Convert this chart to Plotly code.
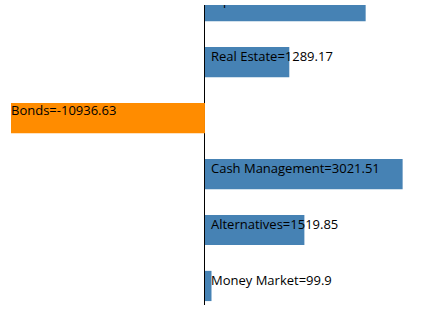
import plotly.graph_objects as go

categories = ["Money Market", "Alternatives", "Cash Management", "Bonds", "Real Estate", "Equities"]
values = [99.9, 1519.85, 3021.51, -10936.63, 1289.17, 2456.3]
colors = ["#4682B4", "#4682B4", "#4682B4", "#FF8C00", "#4682B4", "#4682B4"]

x_range = [-2965, 3180]
y_range = [-0.34, 5.02]
W, H = 424, 310
margin = dict(l=11, r=11, t=5, b=5)
bar_w = 0.54
text_lift = 0.105  # labels sit slightly above the bar centre

positions = list(range(len(categories)))
labels = [f"{c}={v}" for c, v in zip(categories, values)]
px_per_unit = (W - margin["l"] - margin["r"]) / (x_range[1] - x_range[0])
pad_units = 3 / px_per_unit

pos_idx = [i for i, v in enumerate(values) if v >= 0]
neg_idx = [i for i, v in enumerate(values) if v < 0]

fig = go.Figure()
# bars
fig.add_trace(go.Bar(
    y=positions, x=values, orientation="h", width=bar_w,
    marker=dict(color=colors, line=dict(width=0)),
    hoverinfo="skip",
))
# labels for positive bars (transparent carrier bars, clipped like the bars)
fig.add_trace(go.Bar(
    y=[positions[i] for i in pos_idx],
    x=[values[i] for i in pos_idx],
    base=pad_units,
    orientation="h", width=bar_w, offset=-bar_w / 2 + text_lift,
    marker=dict(color="rgba(0,0,0,0)", line=dict(width=0)),
    text=[labels[i] for i in pos_idx],
    textposition="inside", insidetextanchor="start",
    constraintext="none", textangle=0,
    textfont=dict(family="Open Sans", size=13, color="black"),
    cliponaxis=True,
    hoverinfo="skip",
))
# labels for negative bars, pinned to the left edge of the plot
fig.add_trace(go.Scatter(
    x=[x_range[0] for _ in neg_idx],
    y=[positions[i] + text_lift for i in neg_idx],
    mode="text",
    text=[labels[i] for i in neg_idx],
    textposition="middle right",
    textfont=dict(family="Open Sans", size=13, color="black"),
    hoverinfo="skip",
))

fig.update_layout(
    width=W, height=H,
    margin=margin,
    paper_bgcolor="white", plot_bgcolor="white",
    showlegend=False,
    barmode="overlay",
    xaxis=dict(range=x_range, showticklabels=False, showgrid=False,
               zeroline=True, zerolinecolor="black", zerolinewidth=1.2, ticks=""),
    yaxis=dict(range=y_range, showticklabels=False, showgrid=False,
               zeroline=False, ticks=""),
)

fig.write_html("out.html")
